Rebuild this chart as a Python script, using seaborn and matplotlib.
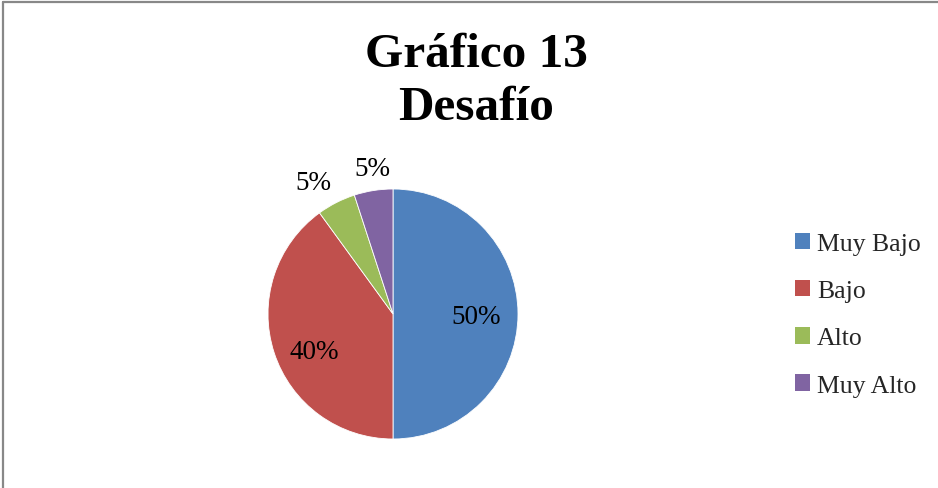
import matplotlib
matplotlib.use("Agg")
import matplotlib.pyplot as plt
import seaborn as sns
from matplotlib.lines import Line2D
from matplotlib.patches import Patch

sns.set_theme(style="white")
plt.rcParams['font.family'] = ['Liberation Serif', 'DejaVu Serif']

categories = ["Muy Bajo", "Bajo", "Alto", "Muy Alto"]
values = [50, 40, 5, 5]
labels_pct = ["50%", "40%", "5%", "5%"]
colors = ["#4F81BD", "#C0504D", "#9BBB59", "#8064A2"]
title_lines = ["Gráfico 13", "Desafío"]

W, H = 938, 489
fig = plt.figure(figsize=(W / 100, H / 100), dpi=100)
ax = fig.add_axes([0, 0, 1, 1])
ax.set_xlim(0, W)
ax.set_ylim(0, H)
ax.set_aspect('equal')
ax.axis('off')

cx, cy, r = 393, H - 315, 125
wedges, texts = ax.pie(values, colors=colors, startangle=90, counterclock=False,
                       center=(cx, cy), radius=r, frame=True,
                       wedgeprops=dict(linewidth=0.6, edgecolor='white'))
ax.set_xlim(0, W)
ax.set_ylim(0, H)
ax.axis('off')

# label positions (pixels, image coords)
label_pos = [(476, 318), (314, 353), (313, 184), (372, 170)]
for lab, (x, y) in zip(labels_pct, label_pos):
    ax.text(x, H - y, lab, ha='center', va='center', fontsize=19.5, color='black')

ax.text(476, H - 55, title_lines[0], ha='center', va='center', fontsize=35.5, fontweight='bold', color='black')
ax.text(476, H - 108, title_lines[1], ha='center', va='center', fontsize=35.5, fontweight='bold', color='black')

handles = [Patch(facecolor=c, edgecolor='none') for c in colors]
leg = fig.legend(handles, categories, loc='upper left', bbox_to_anchor=(795 / W, 1 - 234 / H),
                 frameon=False, fontsize=18.5, handlelength=0.6, handleheight=0.6,
                 handletextpad=0.25, labelspacing=0.97, borderaxespad=0, borderpad=0)

# chart border (top and left visible)
fig.add_artist(Line2D([2.5 / W, 2.5 / W], [0, 1 - 2.5 / H], transform=fig.transFigure, color='#888888', lw=1.6))
fig.add_artist(Line2D([2.5 / W, 1], [1 - 2.5 / H, 1 - 2.5 / H], transform=fig.transFigure, color='#888888', lw=1.6))

fig.savefig("out.png", dpi=100)
